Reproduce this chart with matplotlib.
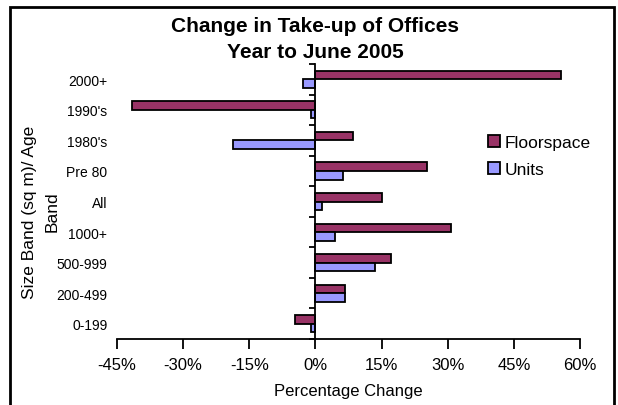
import numpy as np
import matplotlib.pyplot as plt
from matplotlib.patches import Rectangle
from matplotlib.ticker import FuncFormatter

# categories listed bottom to top, as matplotlib stacks them
categories = ["0-199", "200-499", "500-999", "1000+", "All",
              "Pre 80", "1980's", "1990's", "2000+"]
floorspace = [-4.7, 6.8, 17.2, 30.8, 15.0, 25.4, 8.5, -41.7, 55.8]
units = [-1.1, 6.8, 13.6, 4.5, 1.4, 6.3, -18.7, -0.9, -2.8]
x_ticks = [-45, -30, -15, 0, 15, 30, 45, 60]

plt.rcParams['font.family'] = ['Liberation Sans', 'DejaVu Sans']

fig = plt.figure(figsize=(6.18, 4.06), dpi=100)
ax = fig.add_axes([117 / 618, 1 - 340 / 406, (580 - 117) / 618, (340 - 65) / 406])

y = np.arange(len(categories))
h = 0.28
ax.barh(y + h / 2, floorspace, height=h, color='#993366', edgecolor='black',
        linewidth=1.3, label='Floorspace')
ax.barh(y - h / 2, units, height=h, color='#9999FF', edgecolor='black',
        linewidth=1.3, label='Units')

ax.set_xlim(-45, 60)
ax.set_ylim(-0.5, len(categories) - 0.5)
ax.set_xticks(x_ticks)
ax.xaxis.set_major_formatter(FuncFormatter(lambda v, p: f"{v:.0f}%"))
ax.tick_params(axis='x', direction='out', length=7, width=1.3, labelsize=12, pad=6)

ax.set_yticks(y)
ax.set_yticklabels(categories, fontsize=10)
ax.tick_params(axis='y', length=0, pad=7)

for s in ['top', 'right', 'left']:
    ax.spines[s].set_visible(False)
ax.spines['bottom'].set_linewidth(1.3)

# vertical axis line through 0 with ticks between categories
ax2 = ax.twinx()
ax2.set_ylim(ax.get_ylim())
ax2.yaxis.tick_left()
ax2.spines['left'].set_position(('data', 0))
ax2.spines['left'].set_linewidth(1.3)
for s in ['top', 'right', 'bottom']:
    ax2.spines[s].set_visible(False)
ax2.set_yticks(np.arange(len(categories) + 1) - 0.5)
ax2.set_yticklabels([])
ax2.tick_params(axis='y', direction='out', length=4, width=1.3)

ax.set_xlabel("Percentage Change", fontsize=12, labelpad=8)

fig.text(315 / 618, 1 - 27 / 406, "Change in Take-up of Offices", ha='center', va='center',
         fontsize=15, fontweight='bold')
fig.text(315 / 618, 1 - 53 / 406, "Year to June 2005", ha='center', va='center',
         fontsize=15, fontweight='bold')
fig.text(41 / 618, 1 - 212 / 406, "Size Band (sq m)/ Age\nBand", rotation=90,
         ha='center', va='center', multialignment='center', fontsize=12.5, linespacing=1.65)

handles, labels = ax.get_legend_handles_labels()
fig.legend(handles, labels, loc='center left', bbox_to_anchor=(479 / 618, 1 - 157 / 406),
           frameon=False, fontsize=12.5, handlelength=0.7, handleheight=0.7,
           handletextpad=0.3, labelspacing=0.7, borderpad=0)

fig.patches.append(Rectangle((10 / 618, -0.02), (614 - 10) / 618, 1 - 8 / 406 + 0.02,
                             transform=fig.transFigure, fill=False, edgecolor='black',
                             linewidth=2))

fig.savefig("out.png", dpi=100)
